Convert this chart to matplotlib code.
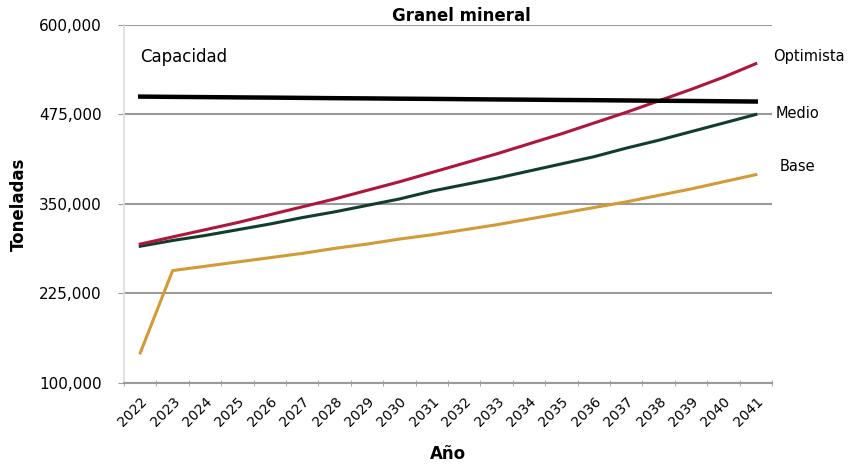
import numpy as np
import matplotlib
matplotlib.use('Agg')
import matplotlib.pyplot as plt
from matplotlib.ticker import FuncFormatter, FixedLocator


# datos (toneladas)
anios = [str(a) for a in range(2022, 2042)]

capacidad = [500000, 499600, 499300, 498900, 498600, 498200, 497800, 497500, 497100, 496800,
             496400, 496000, 495700, 495300, 495000, 494600, 494200, 493900, 493500, 493100]
optimista = [294000, 304000, 314000, 324000, 335000, 346000, 357000, 369000, 381000, 394000,
             407000, 420000, 434000, 448000, 463000, 478000, 494000, 510000, 527000, 546000]
medio = [291000, 299000, 306000, 314000, 322000, 331000, 339000, 348000, 357000, 368000,
         377000, 386000, 396000, 406000, 416000, 428000, 439000, 451000, 463000, 475000]
base = [142000, 257000, 263000, 269000, 275000, 281000, 288000, 294000, 301000, 307000,
        314000, 321000, 329000, 337000, 345000, 353000, 362000, 371000, 381000, 391000]

ticks_y = [100000, 225000, 350000, 475000, 600000]

plt.rcParams['font.family'] = ['DejaVu Sans']

fig = plt.figure(figsize=(8.59, 4.69), dpi=100)
ax = fig.add_axes([0.1444, 0.1834, 0.7543, 0.7633])

x = np.arange(len(anios))

# cuadrícula horizontal
for v in ticks_y:
    ax.axhline(v, color='#9a9a9a', linewidth=1.5, zorder=1)

ax.plot(x, base, color='#D39A35', linewidth=2.2, zorder=3)
ax.plot(x, medio, color='#113D2C', linewidth=2.2, zorder=3)
ax.plot(x, optimista, color='#B0153A', linewidth=2.2, zorder=4)
ax.plot(x, capacidad, color='#000000', linewidth=3.2, zorder=5)

ax.set_xlim(-0.5, len(anios) - 0.5)
ax.set_ylim(100000, 600000)

ax.set_yticks(ticks_y)
ax.yaxis.set_major_formatter(FuncFormatter(lambda v, p: f'{int(v):,}'))
ax.tick_params(axis='y', length=4, color='#9a9a9a', labelsize=11, pad=12)

ax.set_xticks(x)
ax.set_xticklabels(anios, rotation=45, ha='right', rotation_mode='anchor', fontsize=10)
ax.tick_params(axis='x', length=0, pad=8)
ax.xaxis.set_minor_locator(FixedLocator(np.arange(-0.5, len(anios), 1)))
ax.tick_params(axis='x', which='minor', length=4, direction='inout', color='#9a9a9a')

for lado in ['top', 'right']:
    ax.spines[lado].set_visible(False)
ax.spines['left'].set_color('#dddddd')
ax.spines['left'].set_linewidth(1.2)
ax.spines['bottom'].set_color('#9a9a9a')
ax.spines['bottom'].set_linewidth(1.5)

# textos
ax.text(0.0, 555000, 'Capacidad', fontsize=12, va='center', ha='left')
ax.text(19.53, 556000, 'Optimista', fontsize=10.5, va='center', ha='left', clip_on=False)
ax.text(19.62, 477000, 'Medio', fontsize=10.5, va='center', ha='left', clip_on=False)
ax.text(19.75, 402000, 'Base', fontsize=10.5, va='center', ha='left', clip_on=False)

ax.set_title('Granel mineral', fontsize=12, fontweight='bold', pad=2, x=0.52)
ax.set_ylabel('Toneladas', fontsize=12, fontweight='bold', labelpad=8)
ax.set_xlabel('Año', fontsize=12, fontweight='bold', labelpad=12)

fig.savefig('out.png', dpi=100)
